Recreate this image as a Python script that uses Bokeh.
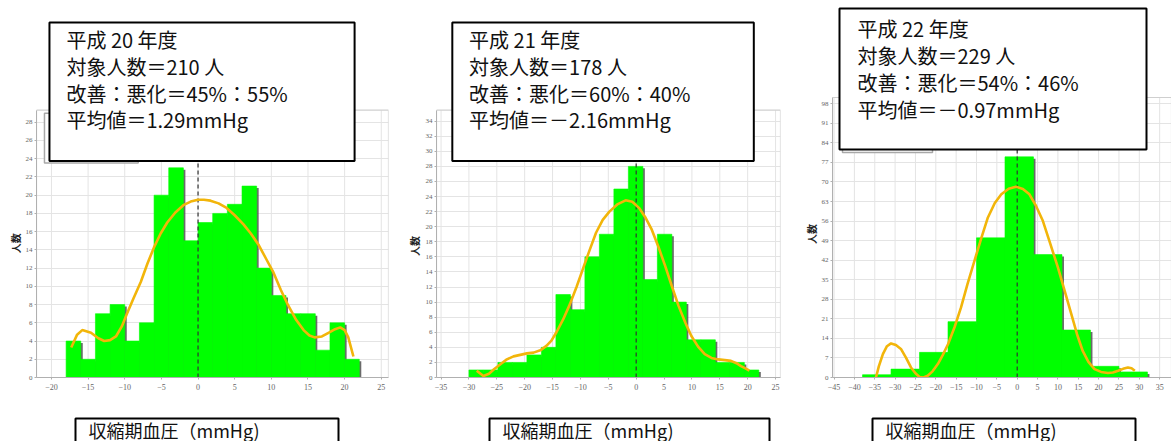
import math
from bokeh.plotting import figure
from bokeh.layouts import column, row
from bokeh.models import Range1d, FixedTicker
from bokeh.core.properties import value
from bokeh.embed import file_html
from bokeh.resources import INLINE

# ---------------- data ----------------
# 平成20年度
h20_edges = [-18, -16, -14, -12, -10, -8, -6, -4, -2, 0, 2, 4, 6, 8, 10, 12, 14, 16, 18, 20, 22]
h20_counts = [4, 2, 7, 8, 4, 6, 20, 23, 15, 17, 18, 19, 21, 12, 9, 7, 7, 3, 6, 2]
h20_curve_x = [-17.3, -16.5, -15.8, -14.6, -13.6, -12.8, -12.0, -11.2, -10.4, -9.7,
               -8.8, -7.8, -6.9, -6.0, -5.1, -4.2, -3.1, -2.0, -1.0, 0.0,
               0.8, 1.7, 2.8, 3.9, 5.0, 6.2, 7.2, 8.3, 9.3, 10.3,
               11.3, 12.3, 13.4, 14.4, 15.2, 15.9, 16.9, 17.8, 18.7, 19.4,
               20.0, 20.5, 21.2]
h20_curve_y = [3.3, 4.7, 5.2, 4.9, 4.3, 4.0, 4.1, 4.5, 5.6, 7.0,
               8.7, 10.5, 12.5, 14.3, 15.8, 17.0, 18.1, 18.9, 19.3, 19.5,
               19.5, 19.4, 19.1, 18.6, 17.8, 16.8, 15.8, 14.5, 13.0, 11.5,
               9.6, 7.9, 6.3, 5.2, 4.6, 4.4, 4.5, 4.9, 5.3, 5.5,
               5.2, 4.4, 2.3]
h20_xticks = [-20, -15, -10, -5, 0, 5, 10, 15, 20, 25]
h20_yticks = [0, 2, 4, 6, 8, 10, 12, 14, 16, 18, 20, 22, 24, 26, 28]
h20_info = ["平成 20 年度", "対象人数＝210 人", "改善：悪化＝45%：55%", "平均値＝1.29mmHg"]

# 平成21年度
h21_edges = [-30, -27.4, -24.8, -22.2, -19.6, -17, -14.4, -11.8, -9.2, -6.6, -4,
             -1.4, 1.2, 3.8, 6.4, 9, 11.6, 14.2, 16.8, 19.4, 22]
h21_counts = [1, 1, 2, 2, 3, 4, 11, 9, 16, 19, 25, 28, 13, 19, 10, 5, 5, 2, 2, 1]
h21_curve_x = [-28.6, -27.4, -26.4, -25.5, -24.3, -23.2, -22.0, -20.8, -19.6, -18.4,
               -17.2, -16.1, -15.2, -14.3, -13.1, -11.9, -10.7, -9.6, -8.4, -7.2,
               -6.0, -4.8, -3.3, -1.9, -0.7, 0.5, 1.6, 2.8, 4.0, 5.2,
               6.4, 7.6, 8.8, 9.9, 11.1, 12.3, 13.5, 14.7, 15.9, 17.0,
               18.0, 18.8, 19.6, 20.3]
h21_curve_y = [0.9, 0.2, 0.5, 1.1, 1.8, 2.4, 2.8, 3.0, 3.2, 3.3,
               3.6, 4.2, 4.9, 6.0, 7.7, 9.7, 12.0, 14.3, 16.8, 19.2,
               20.9, 22.0, 23.0, 23.5, 23.3, 22.5, 21.3, 19.6, 17.3, 14.8,
               12.1, 9.5, 7.3, 5.5, 4.1, 3.1, 2.6, 2.4, 2.3, 2.2,
               1.9, 1.5, 1.2, 0.9]
h21_xticks = [-35, -30, -25, -20, -15, -10, -5, 0, 5, 10, 15, 20, 25]
h21_yticks = [0, 2, 4, 6, 8, 10, 12, 14, 16, 18, 20, 22, 24, 26, 28, 30, 32, 34]
h21_info = ["平成 21 年度", "対象人数＝178 人", "改善：悪化＝60%：40%", "平均値＝－2.16mmHg"]

# 平成22年度
h22_edges = [-38, -31, -24, -17, -10, -3, 4, 11, 18, 25, 32]
h22_counts = [1, 3, 9, 20, 50, 79, 44, 17, 4, 2]
h22_curve_x = [-34.7, -34.0, -33.0, -32.0, -31.0, -29.8, -28.5, -27.3, -26.1, -25.0,
               -24.0, -23.0, -22.0, -20.8, -19.5, -18.3, -17.0, -15.4, -13.8, -12.2,
               -10.5, -8.8, -7.2, -5.5, -3.9, -2.1, -0.3, 1.4, 3.0, 4.6,
               6.3, 8.1, 10.0, 11.7, 13.3, 14.7, 16.1, 17.5, 19.0, 20.6,
               22.3, 23.5, 24.8, 26.0, 27.2, 28.1, 28.9]
h22_curve_y = [0.0, 4.0, 8.4, 11.2, 12.2, 11.6, 10.1, 7.0, 3.6, 1.5,
               0.2, 0.0, 0.6, 2.2, 4.8, 8.0, 11.9, 18.0, 25.1, 33.5,
               41.8, 50.0, 57.3, 62.5, 65.6, 67.6, 68.3, 67.5, 65.6, 61.5,
               56.1, 48.0, 39.4, 30.8, 22.7, 15.5, 9.5, 5.6, 3.0, 2.0,
               1.6, 1.8, 2.4, 3.1, 3.6, 3.3, 2.4]
h22_xticks = [-45, -40, -35, -30, -25, -20, -15, -10, -5, 0, 5, 10, 15, 20, 25, 30, 35]
h22_yticks = [0, 7, 14, 21, 28, 35, 42, 49, 56, 63, 70, 77, 84, 91, 98]
h22_info = ["平成 22 年度", "対象人数＝229 人", "改善：悪化＝54%：46%", "平均値＝－0.97mmHg"]

y_label = "人数"
x_label = "収縮期血圧（mmHg)"

# ---------------- layout (pixels) ----------------
TOP_H = 410
BOT_H = 31
JP = value("Noto Sans CJK JP")

panels = [
    dict(edges=h20_edges, counts=h20_counts, cx=h20_curve_x, cy=h20_curve_y,
         xticks=h20_xticks, yticks=h20_yticks, info=h20_info,
         col_x=0, col_w=400, lab_w=22, lab_pos=(15, 264),
         fl=35, fr=388, x0=197.0, xs=7.35, y0=378.0, ys=9.14,
         ptop=110, box=(48, 354, 22, 161), tx=65, lines=(39, 66, 93, 119),
         legend=(43, 137, 113, 163), bbox=(75, 338), btx=88),
    dict(edges=h21_edges, counts=h21_counts, cx=h21_curve_x, cy=h21_curve_y,
         xticks=h21_xticks, yticks=h21_yticks, info=h21_info,
         col_x=400, col_w=390, lab_w=22, lab_pos=(414, 267),
         fl=432, fr=780, x0=634.0, xs=5.64, y0=378.0, ys=7.56,
         ptop=110, box=(448, 753, 22, 161), tx=465, lines=(39, 66, 93, 119),
         legend=None, bbox=(489, 769), btx=502),
    dict(edges=h22_edges, counts=h22_counts, cx=h22_curve_x, cy=h22_curve_y,
         xticks=h22_xticks, yticks=h22_yticks, info=h22_info,
         col_x=790, col_w=381, lab_w=28, lab_pos=(811, 254),
         fl=832, fr=1171, x0=1016.7, xs=4.07, y0=377.0, ys=2.793,
         ptop=97, box=(839, 1146, 8, 149), tx=857, lines=(28, 55, 82, 109),
         legend=(842, 932, 100, 152), bbox=(872, 1135), btx=885),
]


def canvas_fig(x_start, w, y_top, h):
    # a plain drawing area whose data units are window pixels (y upward)
    f = figure(width=w, height=h, output_backend="svg", toolbar_location=None,
               x_range=Range1d(x_start, x_start + w),
               y_range=Range1d(-(y_top + h), -y_top), min_border=0)
    f.axis.visible = False
    f.grid.visible = False
    f.outline_line_color = None
    f.background_fill_color = "white"
    f.border_fill_color = "white"
    return f


def make_label(d):
    f = canvas_fig(d["col_x"], d["lab_w"], 0, TOP_H)
    lx, ly = d["lab_pos"]
    f.text(x=[lx], y=[-ly], text=[y_label], angle=math.pi / 2, text_font=JP,
           text_font_size="10px", text_font_style="bold", text_color="#222222",
           text_align="center", text_baseline="middle")
    return f


def make_panel(d):
    X = lambda px: (px - d["x0"]) / d["xs"]
    Y = lambda py: (d["y0"] - py) / d["ys"]
    top = Y(d["ptop"])
    fx = d["col_x"] + d["lab_w"]
    fw = d["col_w"] - d["lab_w"]
    p = figure(width=fw, height=TOP_H, output_backend="svg", toolbar_location=None,
               x_range=Range1d(X(d["fl"]), X(d["fr"])), y_range=Range1d(0, Y(0)),
               min_border_left=d["fl"] - fx,
               min_border_right=fx + fw - d["fr"],
               min_border_top=0, min_border_bottom=int(TOP_H - d["y0"]))
    p.outline_line_color = None
    p.background_fill_color = "white"
    p.border_fill_color = "white"

    # axes
    p.xaxis.ticker = FixedTicker(ticks=d["xticks"])
    p.yaxis.ticker = FixedTicker(ticks=d["yticks"])
    p.yaxis.bounds = (0, top)
    for ax in (p.xaxis[0], p.yaxis[0]):
        ax.axis_line_color = "#b0b0b0"
        ax.major_tick_line_color = "#b0b0b0"
        ax.major_tick_out = 2
        ax.major_tick_in = 0
        ax.minor_tick_line_color = None
        ax.major_label_text_color = "#666666"
        ax.major_label_text_font = "Liberation Sans Narrow"
    p.xaxis.major_label_text_font_size = "8px"
    p.xaxis.major_label_standoff = 4
    p.yaxis.major_label_text_font_size = "7px"
    p.yaxis.major_label_standoff = 2

    # grid
    p.xgrid.visible = False
    p.ygrid.grid_line_color = "#e4e4e4"
    p.segment(x0=d["xticks"], y0=0, x1=d["xticks"], y1=top, line_color="#e4e4e4", line_width=1)
    xr0, xr1 = X(d["fl"]), X(d["fr"])
    p.quad(left=xr0, right=xr1, bottom=0, top=top, fill_color=None,
           line_color="#cfcfcf", line_width=1.2)

    # histogram with shadow
    lefts = d["edges"][:-1]
    rights = d["edges"][1:]
    offx = 2.0 / d["xs"]
    offy = 2.0 / d["ys"]
    p.quad(left=[l + offx for l in lefts], right=[r + offx for r in rights], bottom=0,
           top=[max(c - offy, 0) for c in d["counts"]], fill_color="#505050",
           line_color=None, fill_alpha=0.85)
    p.quad(left=lefts, right=rights, bottom=0, top=d["counts"], fill_color="#00ff00",
           line_color="#00ff00", line_width=0.6)

    # zero dashed line
    p.segment(x0=[0], y0=[0], x1=[0], y1=[top], line_color="#333333",
              line_dash="4 3", line_width=1.2)

    # density curve
    p.line(d["cx"], d["cy"], line_color="#f2b50a", line_width=2.6)

    # legend remnant
    if d["legend"] is not None:
        lx0, lx1, ly0, ly1 = d["legend"]
        p.quad(left=X(lx0), right=X(lx1), top=Y(ly0), bottom=Y(ly1),
               fill_color="white", line_color="#a8a8a8", line_width=1.5)

    # info box
    bx0, bx1, by0, by1 = d["box"]
    p.quad(left=X(bx0), right=X(bx1), top=Y(by0), bottom=Y(by1),
           fill_color="white", line_color="black", line_width=2)
    p.text(x=[X(d["tx"])] * 4, y=[Y(v) for v in d["lines"]], text=d["info"],
           text_font=JP, text_font_size="20px", text_baseline="middle",
           text_align="left", text_color="#111111")
    return p


def make_bottom(d):
    b = canvas_fig(d["col_x"], d["col_w"], TOP_H, BOT_H)
    x0, x1 = d["bbox"]
    b.quad(left=x0, right=x1, top=-418, bottom=-446, fill_color="white",
           line_color="black", line_width=2)
    b.text(x=[d["btx"]], y=[-429], text=[x_label], text_font=JP, text_font_size="18px",
           text_baseline="middle", text_align="left", text_color="#111111")
    return b


top_row = []
for d in panels:
    top_row.append(make_label(d))
    top_row.append(make_panel(d))
bots = [make_bottom(d) for d in panels]
layout = column(row(*top_row, spacing=0), row(*bots, spacing=0), spacing=0)

open("out.html", "w").write(file_html(layout, INLINE))
